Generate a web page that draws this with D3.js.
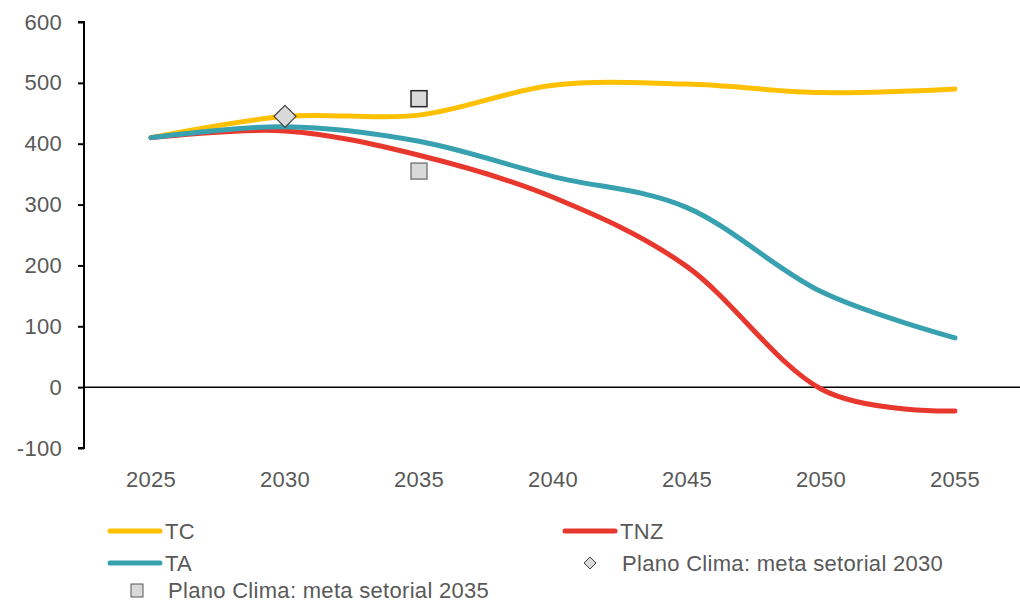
<!DOCTYPE html>
<html>
<head>
<meta charset="utf-8">
<script src="https://cdn.jsdelivr.net/npm/d3@7/dist/d3.min.js"></script>
<style>
  html, body { margin: 0; padding: 0; background: #fff; }
  svg { display: block; font-family: "Liberation Sans", Arial, sans-serif; letter-spacing: 0.3px; }
</style>
</head>
<body>
<svg id="chart" width="1020" height="604"></svg>
<script>
// Emission trajectories by scenario, 5-year steps
const years = ["2025", "2030", "2035", "2040", "2045", "2050", "2055"];
const tc  = [410, 445, 447, 496, 498, 484, 490];
const tnz = [410, 421, 381, 312, 198, -3, -39];
const ta  = [410, 428, 404, 346, 295, 157, 81];

// Plano Clima sector targets
const meta2030 = [{ year: "2030", value: 445 }];
const meta2035 = [{ year: "2035", value: 474 }, { year: "2035", value: 355 }];

const yTicks = [-100, 0, 100, 200, 300, 400, 500, 600];

(function () {
  const svg = d3.select("#chart");
  const plotLeft = 84, plotRight = 1022, plotTop = 22, plotBottom = 448;

  const x = d3.scaleBand().domain(years).range([plotLeft, plotRight]);
  const xc = d => x(d) + x.bandwidth() / 2;
  const y = d3.scaleLinear().domain([-100, 600]).range([plotBottom, plotTop]);

  const textColor = "#595959";
  const fontSize = 22;

  // Y axis
  const yAxis = svg.append("g")
    .attr("transform", `translate(${plotLeft},0)`)
    .call(d3.axisLeft(y).tickValues(yTicks).tickSize(6).tickPadding(16).tickFormat(d => String(d)));
  yAxis.select(".domain").attr("stroke", "#000").attr("stroke-width", 2)
    .attr("d", `M-6,${y(-100)}H0V${y(600)}H-6`);
  yAxis.selectAll(".tick line").attr("stroke", "#000").attr("stroke-width", 2);
  yAxis.selectAll(".tick text").attr("fill", textColor)
    .style("font-size", fontSize + "px").style("font-family", "inherit");

  // Zero line (category axis crossing)
  svg.append("line")
    .attr("x1", plotLeft).attr("x2", 1020)
    .attr("y1", y(0)).attr("y2", y(0))
    .attr("stroke", "#000").attr("stroke-width", 1.5);

  // Category labels at the bottom
  svg.append("g").selectAll("text").data(years).join("text")
    .attr("x", d => xc(d))
    .attr("y", 487)
    .attr("text-anchor", "middle")
    .attr("fill", textColor)
    .style("font-size", fontSize + "px")
    .text(d => d);

  // Scenario lines
  const series = [
    { name: "TC", values: tc, color: "#FFC000" },
    { name: "TNZ", values: tnz, color: "#E8382E" },
    { name: "TA", values: ta, color: "#37A1B0" }
  ];

  const line = d3.line()
    .x((d, i) => xc(years[i]))
    .y(d => y(d))
    .curve(d3.curveCardinal.tension(0));

  svg.append("g").selectAll("path").data(series).join("path")
    .attr("d", s => line(s.values))
    .attr("fill", "none")
    .attr("stroke", s => s.color)
    .attr("stroke-width", 5)
    .attr("stroke-linecap", "round")
    .attr("stroke-linejoin", "round");

  // Target markers
  const markerFill = "#D9D9D9";
  const diamond = (cx, cy, r) => `M${cx},${cy - r}L${cx + r},${cy}L${cx},${cy + r}L${cx - r},${cy}Z`;

  svg.append("g").selectAll("path").data(meta2030).join("path")
    .attr("d", d => diamond(xc(d.year), y(d.value), 11))
    .attr("fill", markerFill)
    .attr("stroke", "#404040")
    .attr("stroke-width", 1.2);

  const sq = 16;
  svg.append("g").selectAll("rect").data(meta2035).join("rect")
    .attr("x", d => xc(d.year) - sq / 2)
    .attr("y", d => y(d.value) - sq / 2)
    .attr("width", sq).attr("height", sq)
    .attr("fill", markerFill)
    .attr("stroke", (d, i) => i === 0 ? "#262626" : "#7F7F7F")
    .attr("stroke-width", 1.5);

  // Legend
  const legend = svg.append("g");
  const legendLines = [
    { s: series[0], x: 108, y: 531 },
    { s: series[1], x: 563, y: 531 },
    { s: series[2], x: 108, y: 563 }
  ];
  legendLines.forEach(e => {
    legend.append("line")
      .attr("x1", e.x + 2).attr("x2", e.x + 52)
      .attr("y1", e.y).attr("y2", e.y)
      .attr("stroke", e.s.color).attr("stroke-width", 5).attr("stroke-linecap", "round");
    legend.append("text")
      .attr("x", e.x + 57).attr("y", e.y)
      .attr("dy", "0.35em")
      .attr("fill", textColor)
      .style("font-size", fontSize + "px")
      .text(e.s.name);
  });

  legend.append("path")
    .attr("d", diamond(590, 563, 6))
    .attr("fill", markerFill).attr("stroke", "#404040").attr("stroke-width", 1);
  legend.append("text")
    .attr("x", 622).attr("y", 563).attr("dy", "0.35em")
    .attr("fill", textColor).style("font-size", fontSize + "px")
    .text("Plano Clima: meta setorial 2030");

  legend.append("rect")
    .attr("x", 131).attr("y", 584).attr("width", 12).attr("height", 13)
    .attr("fill", markerFill).attr("stroke", "#595959").attr("stroke-width", 1);
  legend.append("text")
    .attr("x", 168).attr("y", 590).attr("dy", "0.35em")
    .attr("fill", textColor).style("font-size", fontSize + "px")
    .text("Plano Clima: meta setorial 2035");
})();
</script>
</body>
</html>
